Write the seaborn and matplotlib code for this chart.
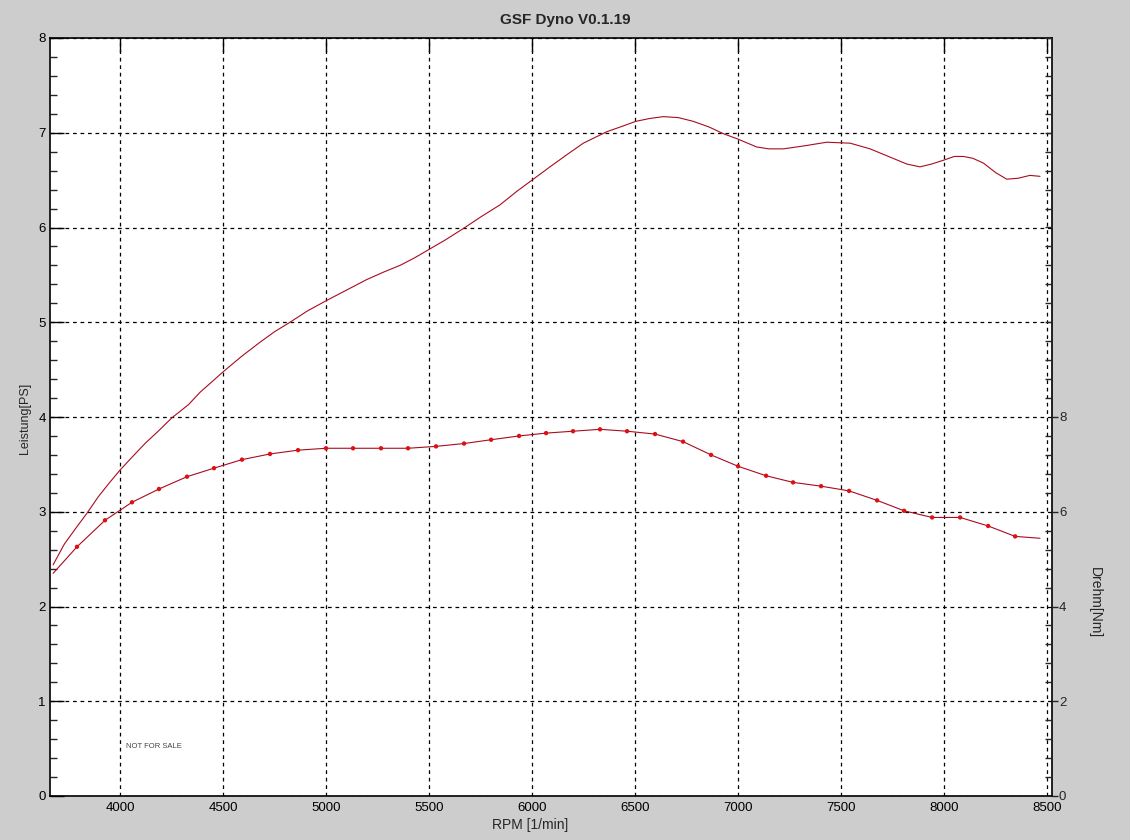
import numpy as np
import pandas as pd
import matplotlib
matplotlib.use("Agg")
import matplotlib.pyplot as plt
from matplotlib.ticker import MultipleLocator, FixedLocator
import seaborn as sns

# -----------------------------
# Data
# -----------------------------
power_rpm = [3675, 3730, 3790, 3838, 3895, 3950, 4000, 4060, 4121, 4190, 4251,
             4332, 4388, 4440, 4502, 4590, 4680, 4750, 4825, 4910, 5003, 5100,
             5197, 5280, 5359, 5430, 5501, 5580, 5667, 5750, 5845, 5925, 6006,
             6087, 6170, 6249, 6362, 6440, 6503, 6570, 6637, 6710, 6783, 6860,
             6929, 7003, 7090, 7150, 7220, 7317, 7430, 7544, 7641, 7730, 7819,
             7883, 7940, 7997, 8050, 8094, 8140, 8191, 8250, 8304, 8360, 8417,
             8466]
power_ps = [2.44, 2.66, 2.84, 2.98, 3.16, 3.31, 3.44, 3.58, 3.72, 3.86, 3.99,
            4.13, 4.26, 4.36, 4.48, 4.64, 4.79, 4.90, 5.00, 5.12, 5.23, 5.34,
            5.45, 5.53, 5.60, 5.68, 5.77, 5.87, 5.99, 6.11, 6.24, 6.38, 6.51,
            6.64, 6.77, 6.89, 7.01, 7.07, 7.12, 7.15, 7.17, 7.16, 7.12, 7.06,
            6.99, 6.93, 6.85, 6.83, 6.83, 6.86, 6.90, 6.89, 6.83, 6.75, 6.67,
            6.64, 6.67, 6.71, 6.75, 6.75, 6.73, 6.68, 6.58, 6.51, 6.52, 6.55,
            6.54]

torque_rpm = [3791, 3927, 4058, 4189, 4325, 4456, 4592, 4728, 4864, 5000,
              5131, 5267, 5398, 5534, 5670, 5801, 5937, 6068, 6199, 6330,
              6461, 6597, 6733, 6869, 7000, 7136, 7267, 7403, 7539, 7675,
              7806, 7942, 8078, 8214, 8345]
torque_nm = [5.26, 5.82, 6.20, 6.48, 6.74, 6.92, 7.10, 7.22, 7.30, 7.34,
             7.34, 7.34, 7.34, 7.38, 7.44, 7.52, 7.60, 7.66, 7.70, 7.74,
             7.70, 7.64, 7.48, 7.20, 6.96, 6.76, 6.62, 6.54, 6.44, 6.24,
             6.02, 5.88, 5.88, 5.70, 5.48]
torque_start = (3675, 4.70)
torque_end = (8466, 5.44)

power = pd.DataFrame({"rpm": power_rpm, "ps": power_ps})
torque_pts = pd.DataFrame({"rpm": torque_rpm, "nm": torque_nm})
torque_line = pd.DataFrame({
    "rpm": [torque_start[0]] + torque_rpm + [torque_end[0]],
    "nm": [torque_start[1]] + torque_nm + [torque_end[1]],
})

# -----------------------------
# Style
# -----------------------------
sns.set_style("white")
plt.rcParams["font.family"] = ["Liberation Sans", "DejaVu Sans"]
bg = "#cdcdcd"
line_col = "#a80c20"
dot_col = "#dd1111"

fig = plt.figure(figsize=(11.3, 8.4), dpi=100, facecolor=bg)
ax = fig.add_axes([50 / 1130, 44 / 840, 1002 / 1130, 758 / 840])
ax.set_facecolor("white")

sns.lineplot(data=power, x="rpm", y="ps", ax=ax, color=line_col, linewidth=0.8)

ax.set_xlim(3660, 8524)
ax.set_ylim(0, 8)
ax.set_xticks(range(4000, 8501, 500))
ax.set_yticks(range(0, 9))
ax.yaxis.set_minor_locator(MultipleLocator(0.2))
ax.grid(True, which="major", color="black", linestyle=(0, (3, 3)), linewidth=0.9)
ax.tick_params(axis="both", which="major", direction="in", length=10, width=1,
               labelsize=9.5, colors="black", pad=4)
ax.tick_params(axis="y", which="minor", direction="in", length=5, width=1,
               left=True)
ax.tick_params(axis="x", top=True)
ax.tick_params(axis="y", which="major", pad=3)
ax.set_xlabel("")
ax.set_ylabel("")
for s in ax.spines.values():
    s.set_color("black")
    s.set_linewidth(1.2)

# torque on right axis
ax2 = ax.twinx()
sns.lineplot(data=torque_line, x="rpm", y="nm", ax=ax2, color=line_col, linewidth=0.8)
sns.scatterplot(data=torque_pts, x="rpm", y="nm", ax=ax2, color=dot_col,
                s=10, edgecolor="none", zorder=5)
ax2.set_ylim(0, 16)
ax2.yaxis.set_major_locator(FixedLocator([0, 2, 4, 6, 8]))
ax2.yaxis.set_minor_locator(MultipleLocator(0.4))
ax2.tick_params(axis="y", which="major", direction="out", length=4, width=1,
                labelsize=9.5, pad=1)
ax2.tick_params(axis="y", which="minor", direction="in", length=5, width=1)
ax2.set_ylabel("")
ax2.set_xlabel("")
ax2.grid(False)
for s in ax2.spines.values():
    s.set_visible(False)

# texts
fig.text(565 / 1130, 1 - 20 / 840, "GSF Dyno V0.1.19", ha="center", va="center",
         fontsize=11, fontweight="bold")
fig.text(25 / 1130, 1 - 418 / 840, "Leistung[PS]", rotation=90, ha="center",
         va="center", fontsize=9)
fig.text(1095 / 1130, 1 - 603 / 840, "Drehm[Nm]", rotation=270, ha="center",
         va="center", fontsize=10)
fig.text(530 / 1130, 1 - 825 / 840, "RPM [1/min]", ha="center", va="center",
         fontsize=10)
ax.text(4030, 0.52, "NOT FOR SALE", fontsize=5.5, color="#444444",
        ha="left", va="center")

fig.savefig("out.png", dpi=100, facecolor=bg)
